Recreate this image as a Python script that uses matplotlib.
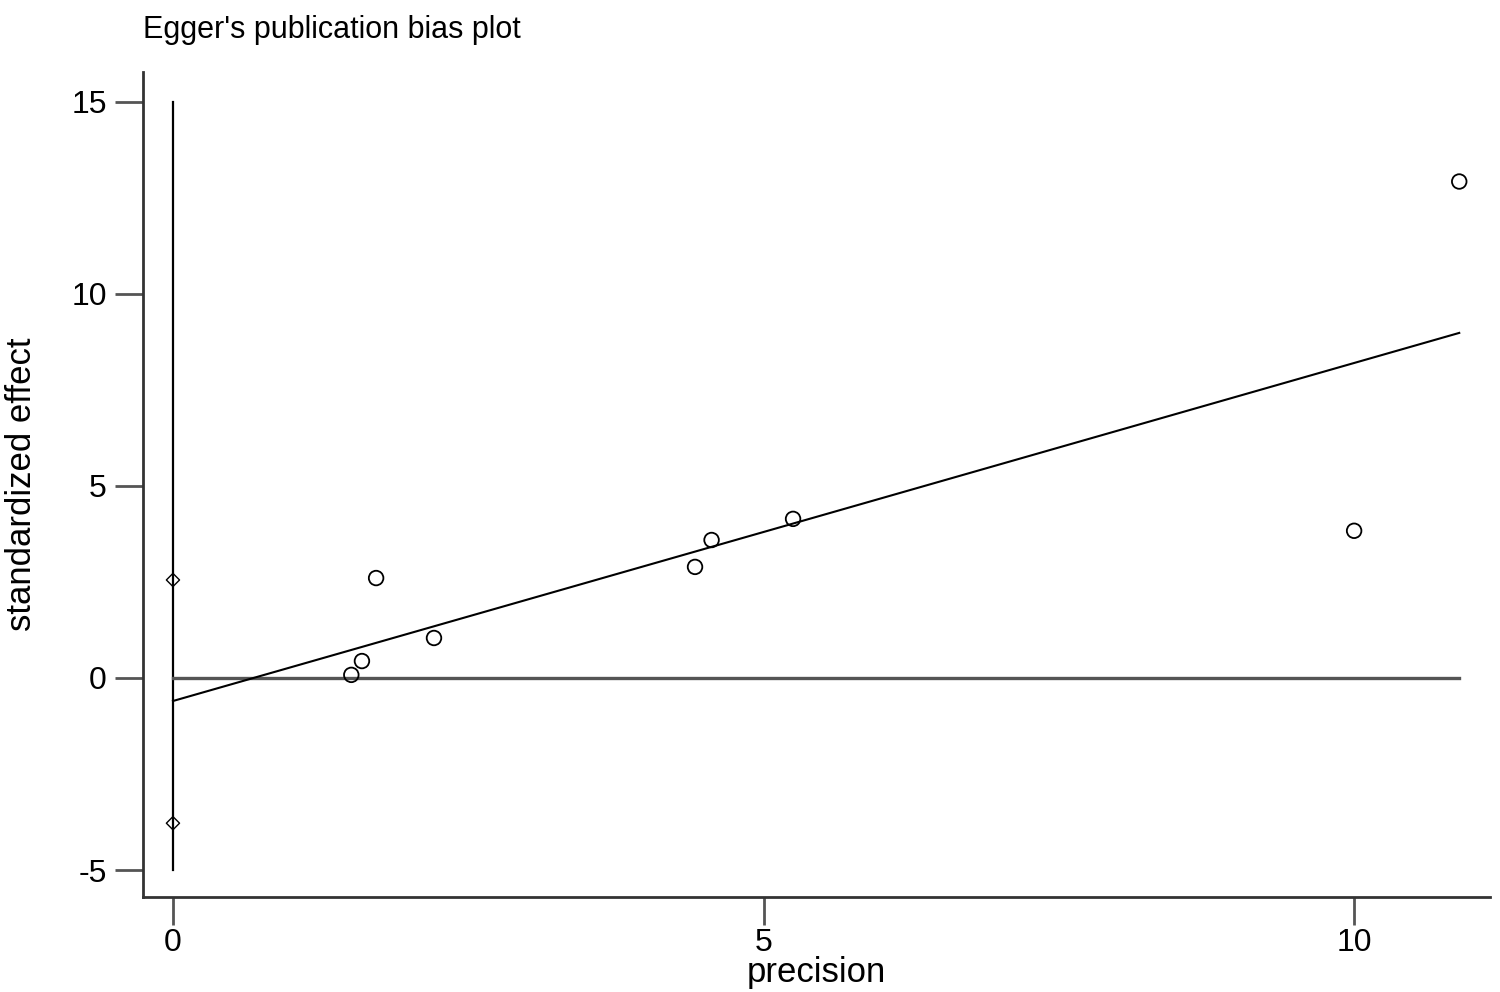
import numpy as np
import matplotlib.pyplot as plt

plt.rcParams['font.family'] = ['Liberation Sans', 'DejaVu Sans']
plt.rcParams['axes.unicode_minus'] = False

# study points (precision, standardized effect)
precision = [1.51, 1.60, 1.72, 2.21, 4.42, 4.56, 5.25, 10.0, 10.89]
std_effect = [0.08, 0.44, 2.60, 1.04, 2.89, 3.59, 4.14, 3.83, 12.92]

# intercept confidence limits shown at precision = 0
ci_low, ci_high = -3.78, 2.55
intercept = -0.60
line_end = 8.98   # fitted value at the largest precision

xticks = [0, 5, 10]
yticks = [-5, 0, 5, 10, 15]

fig = plt.figure(figsize=(15, 9.92), dpi=100)
ax = fig.add_axes([0.0953, 0.0958, 0.898, 0.832])

xmax = max(precision)
ax.plot([0, 0], [-5, 15], color='black', lw=1.6)
ax.plot([0, xmax], [0, 0], color='#555555', lw=2.4)
ax.plot([0, xmax], [intercept, line_end], color='black', lw=1.5)
ax.scatter(precision, std_effect, s=110, facecolors='none',
           edgecolors='black', linewidths=1.3, zorder=3)
ax.scatter([0, 0], [ci_low, ci_high], marker='D', s=45, facecolors='none',
           edgecolors='black', linewidths=1.0, zorder=3)

ax.set_xlim(-0.254, 11.15)
ax.set_ylim(-5.70, 15.78)
ax.set_xticks(xticks)
ax.set_yticks(yticks)
ax.spines['top'].set_visible(False)
ax.spines['right'].set_visible(False)
for s in ['left', 'bottom']:
    ax.spines[s].set_color('#333333')
    ax.spines[s].set_linewidth(2.0)
ax.tick_params(axis='both', length=20, width=2.0, color='#555555',
               labelsize=23)
ax.tick_params(axis='x', pad=2)
ax.tick_params(axis='y', pad=6)

ax.set_xlabel('precision', fontsize=25)
ax.set_ylabel('standardized effect', fontsize=25)
ax.xaxis.set_label_coords(0.5, -0.092, transform=ax.transAxes)
ax.xaxis.label.set_va('center')
ax.yaxis.set_label_coords(-0.0898, 0.5, transform=ax.transAxes)
ax.yaxis.label.set_va('center')
fig.text(0.0953, 0.97, "Egger's publication bias plot", fontsize=22,
         va='center', ha='left')

fig.savefig('out.png', dpi=100)
